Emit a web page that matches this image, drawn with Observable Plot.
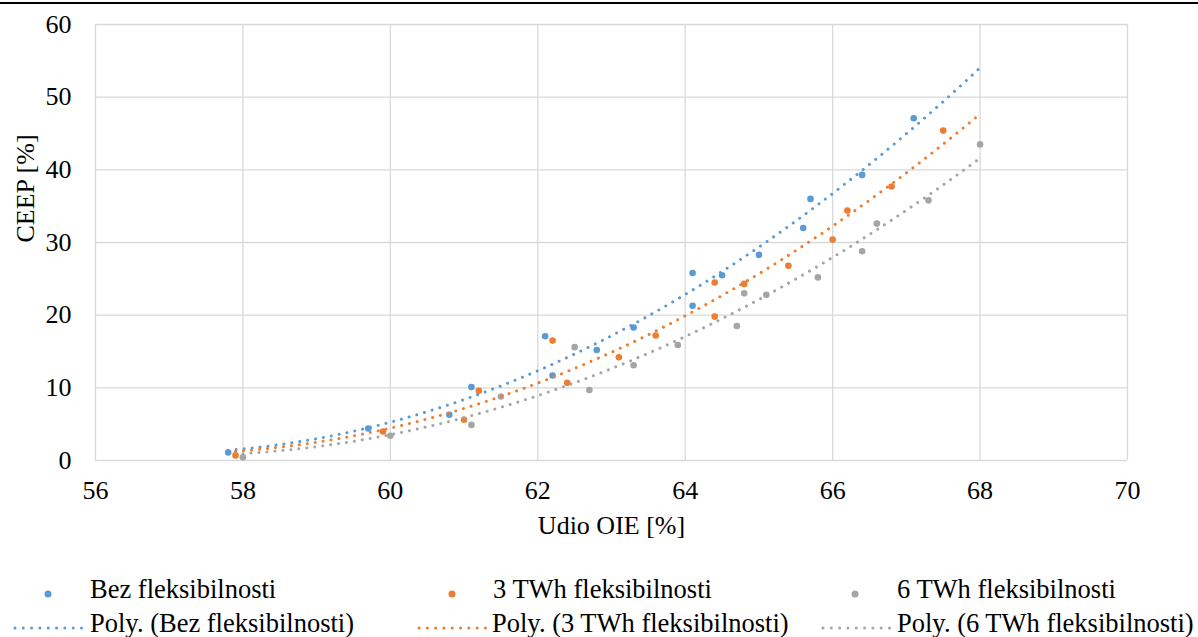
<!DOCTYPE html>
<html>
<head>
<meta charset="utf-8">
<script src="https://cdn.jsdelivr.net/npm/d3@7"></script>
<script src="https://cdn.jsdelivr.net/npm/@observablehq/plot@0.6"></script>
<style>
  html, body { margin: 0; padding: 0; background: #fff; }
  body { width: 1198px; height: 637px; position: relative; overflow: hidden; font-family: "Liberation Serif", "Times New Roman", serif; }
  #topline { position: absolute; left: 0; top: 2px; width: 1198px; height: 1.5px; background: #000; }
  #chart { position: absolute; left: 0; top: 0; }
  .lg { position: absolute; font-family: "Liberation Serif", "Times New Roman", serif; font-size: 26.5px; color: #000; white-space: nowrap; line-height: 30px; }
  .sym { position: absolute; }
</style>
</head>
<body>
<div id="chart"></div>
<div id="topline"></div>
<div id="legend"></div>
<script>
// ---- data ----
const xTicks = [56, 58, 60, 62, 64, 66, 68, 70];
const yTicks = [0, 10, 20, 30, 40, 50, 60];
const seriesNames = ["Bez fleksibilnosti", "3 TWh fleksibilnosti", "6 TWh fleksibilnosti"];
const colors = ["#5B9BD5", "#ED7D31", "#A5A5A5"];
const xLabel = "Udio OIE [%]";
const yLabel = "CEEP [%]";

const bezX = [57.8, 59.7, 60.8, 61.1, 62.1, 62.2, 62.8, 63.3, 64.1, 64.1, 64.5, 65.0, 65.6, 65.7, 66.4, 67.1];
const bezY = [1.1, 4.4, 6.3, 10.1, 17.1, 11.7, 15.2, 18.3, 25.8, 21.3, 25.5, 28.3, 32.0, 36.0, 39.3, 47.1];
const tw3X = [57.9, 59.9, 61.0, 61.2, 62.2, 62.4, 63.1, 63.6, 64.4, 64.4, 64.8, 65.4, 66.0, 66.2, 66.8, 67.5];
const tw3Y = [0.7, 4.0, 5.6, 9.6, 16.5, 10.7, 14.2, 17.2, 24.5, 19.8, 24.3, 26.8, 30.4, 34.4, 37.7, 45.4];
const tw6X = [58.0, 60.0, 61.1, 61.5, 62.5, 62.7, 63.3, 63.9, 64.8, 64.7, 65.1, 65.8, 66.4, 66.6, 67.3, 68.0];
const tw6Y = [0.45, 3.4, 4.9, 8.8, 15.6, 9.7, 13.1, 15.9, 23.0, 18.5, 22.8, 25.2, 28.8, 32.6, 35.8, 43.5];

const seriesX = [bezX, tw3X, tw6X];
const seriesY = [bezY, tw3Y, tw6Y];

// ---- build tables ----
const points = [];
seriesX.forEach((xs, s) => xs.forEach((x, i) => points.push({series: seriesNames[s], x, y: seriesY[s][i]})));

// quadratic least-squares trendline (like Excel "Poly." order 2)
function quadFit(xs, ys) {
  const c = 62;
  let S = [0,0,0,0,0], T = [0,0,0];
  xs.forEach((x0, i) => {
    const x = x0 - c, y = ys[i];
    for (let k = 0; k < 5; k++) S[k] += Math.pow(x, k);
    for (let k = 0; k < 3; k++) T[k] += y * Math.pow(x, k);
  });
  const A = [[S[0],S[1],S[2],T[0]],[S[1],S[2],S[3],T[1]],[S[2],S[3],S[4],T[2]]];
  for (let i = 0; i < 3; i++) {
    let p = i; for (let r = i+1; r < 3; r++) if (Math.abs(A[r][i]) > Math.abs(A[p][i])) p = r;
    [A[i], A[p]] = [A[p], A[i]];
    for (let r = 0; r < 3; r++) if (r !== i) {
      const f = A[r][i] / A[i][i];
      for (let k = i; k < 4; k++) A[r][k] -= f * A[i][k];
    }
  }
  const a = A.map((row, i) => row[3] / row[i]);
  return x => a[0] + a[1]*(x-c) + a[2]*(x-c)*(x-c);
}
const trendEnd = d3.max(seriesX.flat());
const trends = [];
seriesX.forEach((xs, s) => {
  const f = quadFit(xs, seriesY[s]);
  const x0 = d3.min(xs);
  const n = 200;
  for (let i = 0; i <= n; i++) {
    const x = x0 + (trendEnd - x0) * i / n;
    trends.push({series: seriesNames[s], x, y: f(x)});
  }
});

const font = "'Liberation Serif', 'Times New Roman', serif";

const chart = Plot.plot({
  width: 1198,
  height: 560,
  marginTop: 24,
  marginBottom: 100,
  marginLeft: 95,
  marginRight: 71,
  style: {fontFamily: font, fontSize: "26px", color: "#000", background: "transparent", overflow: "visible"},
  x: {domain: [56, 70], ticks: xTicks, tickSize: 0, tickPadding: 20, label: null},
  y: {domain: [0, 60], ticks: yTicks, tickSize: 0, tickPadding: 24, label: null},
  color: {domain: seriesNames, range: colors},
  marks: [
    Plot.ruleX(xTicks, {x: d => d, stroke: "#D9D9D9", strokeWidth: 1.3}),
    Plot.ruleY(yTicks, {y: d => d, stroke: "#D9D9D9", strokeWidth: 1.3}),
    Plot.dot(points, {x: "x", y: "y", fill: "series", r: 3.3, stroke: null}),
    Plot.line(trends, {x: "x", y: "y", z: "series", stroke: "series", strokeWidth: 3,
      strokeDasharray: "0.01,8", strokeLinecap: "round"}),
    Plot.text([xLabel], {text: d => d, frameAnchor: "bottom", dy: 65, fontSize: 26, fill: "#000", lineAnchor: "middle"}),
    Plot.text([yLabel], {text: d => d, frameAnchor: "left", dx: -70, rotate: -90, fontSize: 26, fill: "#000", lineAnchor: "middle"})
  ]
});
document.getElementById("chart").appendChild(chart);

// ---- legend (HTML below the svg) ----
const legend = document.getElementById("legend");
const dotX = [48, 452, 855];
const dotTextX = [90, 493, 897];
const lineX = [[13, 82], [417, 485], [821, 889]];
const lineTextX = [90, 492, 897];
const row1 = 590, row2 = 624;
seriesNames.forEach((name, i) => {
  const c = colors[i];
  const d = document.createElement("div");
  d.className = "sym";
  d.style.left = (dotX[i] - 5) + "px"; d.style.top = (row1 - 5) + "px";
  d.innerHTML = `<svg width="10" height="10"><circle cx="5" cy="5" r="3.5" fill="${c}"/></svg>`;
  legend.appendChild(d);
  const t = document.createElement("div");
  t.className = "lg"; t.textContent = name;
  t.style.left = dotTextX[i] + "px"; t.style.top = (row1 - 16) + "px";
  legend.appendChild(t);

  const [a, b] = lineX[i];
  const l = document.createElement("div");
  l.className = "sym";
  l.style.left = a + "px"; l.style.top = (row2 - 5) + "px";
  l.innerHTML = `<svg width="${b - a + 4}" height="10"><line x1="2" y1="5" x2="${b - a + 2}" y2="5" stroke="${c}" stroke-width="3" stroke-linecap="round" stroke-dasharray="0.01,8.3"/></svg>`;
  legend.appendChild(l);
  const t2 = document.createElement("div");
  t2.className = "lg"; t2.textContent = "Poly. (" + name + ")";
  t2.style.left = lineTextX[i] + "px"; t2.style.top = (row2 - 16) + "px";
  legend.appendChild(t2);
});
</script>
</body>
</html>
